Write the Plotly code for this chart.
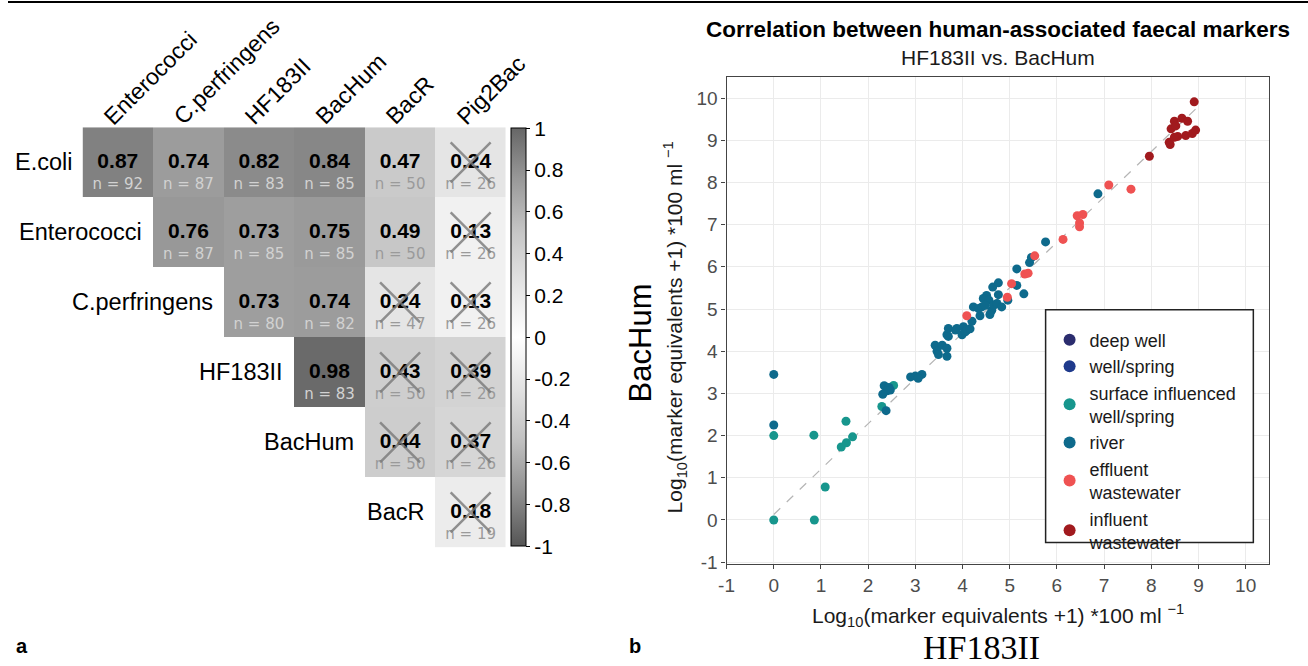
import plotly.graph_objects as go

W, H = 1308, 666

# ---------------- Panel a: correlation matrix ----------------
row_labels = ["E.coli", "Enterococci", "C.perfringens", "HF183II", "BacHum", "BacR"]
col_labels = ["Enterococci", "C.perfringens", "HF183II", "BacHum", "BacR", "Pig2Bac"]

corr = [
    [0.87, 0.74, 0.82, 0.84, 0.47, 0.24],
    [None, 0.76, 0.73, 0.75, 0.49, 0.13],
    [None, None, 0.73, 0.74, 0.24, 0.13],
    [None, None, None, 0.98, 0.43, 0.39],
    [None, None, None, None, 0.44, 0.37],
    [None, None, None, None, None, 0.18],
]
n_obs = [
    [92, 87, 83, 85, 50, 26],
    [None, 87, 85, 85, 50, 26],
    [None, None, 80, 82, 47, 26],
    [None, None, None, 83, 50, 26],
    [None, None, None, None, 50, 26],
    [None, None, None, None, None, 19],
]
# non-significant cells (crossed out)
insignificant = [
    [False, False, False, False, False, True],
    [False, False, False, False, False, True],
    [False, False, False, False, True, True],
    [False, False, False, False, True, True],
    [False, False, False, False, True, True],
    [False, False, False, False, False, True],
]
cbar_vals = [1, 0.8, 0.6, 0.4, 0.2, 0, -0.2, -0.4, -0.6, -0.8, -1]
cbar_text = ["1", "0.8", "0.6", "0.4", "0.2", "0", "-0.2", "-0.4", "-0.6", "-0.8", "-1"]

# ---------------- Panel b: scatter ----------------
groups = ["deep well", "well/spring", "surface influenced<br>well/spring", "river",
          "effluent<br>wastewater", "influent<br>wastewater"]
group_colors = ["#2b2d6e", "#1f3a8c", "#17968d", "#0e6a8c", "#ef5252", "#a11a1e"]

deep_x, deep_y = [None], [None]
well_x, well_y = [None], [None]
surf_x = [0.0, 0.0, 0.85, 0.86, 1.09, 1.43, 1.54, 1.67, 1.53, 2.29, 2.54]
surf_y = [2.0, 0.0, 2.01, 0.0, 0.78, 1.73, 1.83, 1.97, 2.34, 2.69, 3.19]
river_x = [0.0, 0.0, 2.34, 2.44, 2.40, 2.31, 2.47, 2.38, 2.90, 3.00, 3.14, 3.06,
           3.42, 3.57, 3.67, 3.46, 3.49, 3.67, 3.70, 3.67, 3.70, 3.85, 3.88, 4.02,
           3.99, 4.06, 4.09, 4.16, 4.20, 4.23, 4.34, 4.41, 4.51, 4.44, 4.56, 4.62,
           4.66, 4.73, 4.58, 4.37, 4.64, 4.76, 4.76, 4.96, 5.15, 5.30, 5.15, 5.42,
           5.46, 5.76, 4.48, 4.83, 6.87]
river_y = [3.45, 2.25, 3.18, 3.14, 3.06, 2.98, 3.08, 2.59, 3.39, 3.41, 3.45, 3.36,
           4.14, 4.14, 4.07, 4.00, 3.92, 3.88, 4.35, 4.39, 4.54, 4.50, 4.54, 4.58,
           4.39, 4.46, 4.50, 4.53, 4.71, 5.05, 5.01, 5.05, 5.32, 5.25, 5.21, 4.97,
           5.09, 5.13, 4.87, 4.84, 5.52, 5.62, 5.34, 5.21, 5.56, 5.36, 5.95, 6.10,
           6.22, 6.59, 5.09, 5.05, 7.73]
eff_x = [4.09, 4.95, 5.04, 5.32, 5.39, 5.53, 6.13, 6.43, 6.55, 6.48, 6.48, 7.10, 7.57]
eff_y = [4.84, 5.28, 5.60, 5.83, 5.85, 6.26, 6.65, 7.21, 7.24, 7.04, 6.95, 7.94, 7.84]
inf_x = [7.96, 8.91, 8.49, 8.65, 8.77, 8.42, 8.56, 8.73, 8.87, 8.94, 8.38, 8.40, 8.49, 8.52]
inf_y = [8.62, 9.91, 9.45, 9.52, 9.45, 9.27, 9.09, 9.11, 9.16, 9.24, 8.95, 8.90, 9.07, 9.34]

fit_intercept, fit_slope = 0.13, 1.075
fit_xrange = [0.0, 8.94]

axis_ticks = [-1, 0, 1, 2, 3, 4, 5, 6, 7, 8, 9, 10]
axis_ticktext = ["-1", "0", "1", "2", "3", "4", "5", "6", "7", "8", "9", "10"]

FONT = "Liberation Sans, Arial, sans-serif"

fig = go.Figure()

# heatmap
colorscale = [
    [0.0, "#555555"], [0.125, "#8e8e8e"], [0.25, "#c0c0c0"], [0.375, "#e2e2e2"],
    [0.5, "#ffffff"], [0.625, "#e4e4e4"], [0.75, "#c6c6c6"], [0.875, "#9a9a9a"],
    [1.0, "#666666"],
]
fig.add_trace(go.Heatmap(
    z=corr, x=list(range(len(col_labels))), y=list(range(len(row_labels))),
    zmin=-1, zmax=1, colorscale=colorscale, xaxis="x", yaxis="y",
    hoverongaps=False, xgap=0, ygap=0,
    colorbar=dict(
        x=506 / W, xanchor="left", y=1 - 130 / H, yanchor="top",
        len=(554 - 130) / H, lenmode="fraction", thickness=15,
        outlinewidth=1, outlinecolor="#000000", xpad=0, ypad=0,
        tickvals=cbar_vals, ticktext=cbar_text, ticks="outside", ticklen=4,
        tickcolor="#000000", tickfont=dict(size=21, color="#000000", family=FONT),
    ),
))

num_x, num_y, num_t = [], [], []
n_x, n_y, n_t, n_c = [], [], [], []
cx, cy = [], []
for i, row in enumerate(corr):
    for j, v in enumerate(row):
        if v is None:
            continue
        num_x.append(j); num_y.append(i); num_t.append(f"<b>{v:.2f}</b>")
        n_x.append(j); n_y.append(i + 0.33); n_t.append(f"n = {n_obs[i][j]}")
        n_c.append("#d2d2d2" if v > 0.6 else "#9a9a9a")
        if insignificant[i][j]:
            cx.append(j); cy.append(i)

fig.add_trace(go.Scatter(
    x=num_x, y=num_y, text=num_t, mode="text", xaxis="x", yaxis="y",
    textfont=dict(size=21, color="#000000", family=FONT), showlegend=False, hoverinfo="skip"))
fig.add_trace(go.Scatter(
    x=n_x, y=n_y, text=n_t, mode="text", xaxis="x", yaxis="y",
    textfont=dict(size=15, color=n_c, family="DejaVu Sans, sans-serif"),
    showlegend=False, hoverinfo="skip"))
fig.add_trace(go.Scatter(
    x=cx, y=cy, mode="markers", xaxis="x", yaxis="y",
    marker=dict(symbol="x-thin", size=40, line=dict(width=2.5, color="rgba(120,120,120,0.8)")),
    showlegend=False, hoverinfo="skip"))

# scatter groups
series = [(deep_x, deep_y), (well_x, well_y), (surf_x, surf_y), (river_x, river_y),
          (eff_x, eff_y), (inf_x, inf_y)]

fit_y = [fit_intercept + fit_slope * v for v in fit_xrange]
fig.add_trace(go.Scatter(
    x=fit_xrange, y=fit_y, mode="lines", xaxis="x2", yaxis="y2",
    line=dict(color="#b5b5b5", width=1.2, dash="dash"), showlegend=False, hoverinfo="skip"))

for name, col, (sx, sy) in zip(groups, group_colors, series):
    fig.add_trace(go.Scatter(
        x=sx, y=sy, mode="markers", name=name, xaxis="x2", yaxis="y2",
        marker=dict(size=9, color=col, line=dict(width=0)),
    ))

annotations = []
# row labels
for i, lab in enumerate(row_labels):
    annotations.append(dict(
        x=i - 0.5, y=i, xref="x", yref="y", text=lab, showarrow=False,
        xanchor="right", yanchor="middle", xshift=-9,
        font=dict(size=23.5, color="#000000", family=FONT)))
# column labels
for j, lab in enumerate(col_labels):
    annotations.append(dict(
        x=j, y=-0.5, xref="x", yref="y", text=lab, showarrow=False,
        xanchor="left", yanchor="bottom", textangle=-45, xshift=-22, yshift=-5,
        font=dict(size=23, color="#000000", family=FONT)))

# scatter titles / axis titles
annotations += [
    dict(x=996 / W, y=1 - 30 / H, xref="paper", yref="paper", showarrow=False,
         text="<b>Correlation between human-associated faecal markers</b>",
         font=dict(size=22.5, color="#000000", family=FONT), xanchor="center", yanchor="middle"),
    dict(x=996 / W, y=1 - 58 / H, xref="paper", yref="paper", showarrow=False,
         text="HF183II vs. BacHum",
         font=dict(size=21, color="#1a1a1a", family=FONT), xanchor="center", yanchor="middle"),
    dict(x=996 / W, y=1 - 624 / H, xref="paper", yref="paper", showarrow=False,
         text="Log<sub>10</sub>(marker equivalents +1) *100 ml <sup>\u22121</sup>",
         font=dict(size=21, color="#1a1a1a", family=FONT), xanchor="center", yanchor="middle"),
    dict(x=979 / W, y=0, xref="paper", yref="paper", showarrow=False,
         text="HF183II", yshift=-11,
         font=dict(size=34, color="#000000", family="Liberation Serif, Times New Roman, serif"),
         xanchor="center", yanchor="bottom"),
    dict(x=671 / W, y=1 - 332 / H, xref="paper", yref="paper", showarrow=False,
         text="Log<sub>10</sub>(marker equivalents +1) *100 ml <sup>\u22121</sup>", textangle=-90,
         font=dict(size=21, color="#1a1a1a", family=FONT), xanchor="center", yanchor="middle"),
    dict(x=636 / W, y=1 - 348 / H, xref="paper", yref="paper", showarrow=False,
         text="BacHum", textangle=-90,
         font=dict(size=31, color="#000000", family=FONT), xanchor="center", yanchor="middle"),
    dict(x=14 / W, y=1 - 655 / H, xref="paper", yref="paper", showarrow=False,
         text="<b>a</b>", font=dict(size=20, color="#000000", family=FONT),
         xanchor="center", yanchor="middle"),
    dict(x=631 / W, y=1 - 655 / H, xref="paper", yref="paper", showarrow=False,
         text="<b>b</b>", font=dict(size=20, color="#000000", family=FONT),
         xanchor="center", yanchor="middle"),
]

shapes = [
    dict(type="line", xref="paper", yref="paper", x0=0, x1=1, y0=1 - 2 / H, y1=1 - 2 / H,
         line=dict(color="#000000", width=2)),
    dict(type="rect", xref="paper", yref="paper", x0=1044 / W, x1=1253 / W,
         y0=1 - 550 / H, y1=1 - 314 / H, line=dict(color="#222222", width=1.5),
         fillcolor="#ffffff", layer="above"),
]

sc_axis = dict(
    showgrid=True, gridcolor="#ebebeb", gridwidth=1.3, zeroline=False,
    showline=True, mirror=True, linecolor="#444444", linewidth=1.3,
    ticks="outside", ticklen=4, tickcolor="#444444",
    tickvals=axis_ticks, ticktext=axis_ticktext,
    tickfont=dict(size=19, color="#4d4d4d", family=FONT),
)

fig.update_layout(
    width=W, height=H, margin=dict(l=0, r=0, t=0, b=0),
    paper_bgcolor="#ffffff", plot_bgcolor="#ffffff",
    font=dict(family=FONT),
    xaxis=dict(domain=[75 / W, 501 / W], range=[-0.5, 5.5], showgrid=False, zeroline=False,
               showticklabels=False, ticks="", showline=False),
    yaxis=dict(domain=[1 - 555 / H, 1 - 129 / H], range=[5.5, -0.5], showgrid=False,
               zeroline=False, showticklabels=False, ticks="", showline=False),
    xaxis2=dict(domain=[723 / W, 1269 / W], range=[-1, 10.5], anchor="y2", **sc_axis),
    yaxis2=dict(domain=[1 - 572 / H, 1 - 78 / H], range=[-1.05, 10.5], anchor="x2", **sc_axis),
    legend=dict(x=1048 / W, y=1 - 326 / H, xanchor="left", yanchor="top",
                bgcolor="rgba(0,0,0,0)", borderwidth=0,
                font=dict(size=18, color="#1a1a1a", family=FONT), itemsizing="constant"),
    annotations=annotations, shapes=shapes,
)

fig.write_html("out.html")
